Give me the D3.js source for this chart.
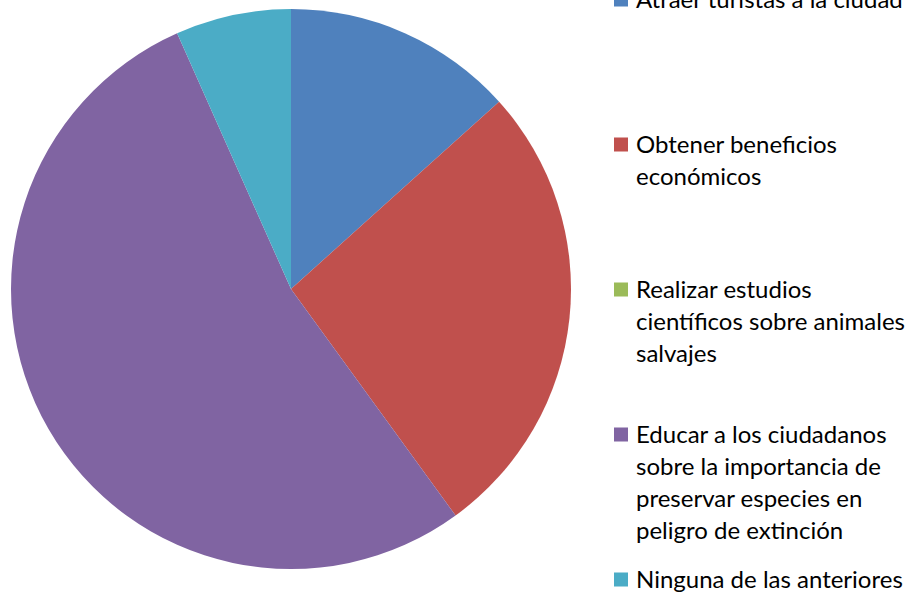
<!DOCTYPE html>
<html>
<head>
<meta charset="utf-8">
<script src="https://cdn.jsdelivr.net/npm/d3@7"></script>
<style>
  body { margin: 0; background: #fff; }
  svg { display: block; }
</style>
</head>
<body>
<script>
// categories (legend lines as they wrap in the original)
var categories = [
  ["Atraer turistas a la ciudad"],
  ["Obtener beneficios", "económicos"],
  ["Realizar estudios", "científicos sobre animales", "salvajes"],
  ["Educar a los ciudadanos", "sobre la importancia de", "preservar especies en", "peligro de extinción"],
  ["Ninguna de las anteriores"]
];
var values = [2, 4, 0, 8, 1];
var colors = ["#4F81BD", "#C0504D", "#9BBB59", "#8064A2", "#4BACC6"];

var width = 921, height = 594;

var svg = d3.select("body")
  .append("svg")
  .attr("width", width)
  .attr("height", height);

var data = values.map(function (v, i) { return { value: v, lines: categories[i], color: colors[i] }; });

var pie = d3.pie()
  .sort(null)
  .value(function (d) { return d.value; });

var arc = d3.arc()
  .innerRadius(0)
  .outerRadius(280);

svg.append("g")
  .attr("transform", "translate(291,289)")
  .selectAll("path")
  .data(pie(data))
  .enter().append("path")
  .attr("d", arc)
  .style("fill", function (d) { return d.data.color; });

// legend
var legendY = d3.scalePoint()
  .domain(d3.range(data.length))
  .range([0, 580]);

var lineH = 32;

var item = svg.append("g")
  .attr("class", "legend")
  .selectAll("g")
  .data(data)
  .enter().append("g")
  .attr("transform", function (d, i) { return "translate(614," + legendY(i) + ")"; });

item.append("rect")
  .attr("x", 0)
  .attr("y", -7.5)
  .attr("width", 14)
  .attr("height", 14)
  .style("fill", function (d) { return d.color; });

item.append("text")
  .style("font-family", "Lato, 'Open Sans', sans-serif")
  .style("font-size", "24px")
  .style("fill", "#000")
  .selectAll("tspan")
  .data(function (d) { return d.lines; })
  .enter().append("tspan")
  .attr("x", 22)
  .attr("y", function (d, j) { return j * lineH; })
  .attr("dy", "0.35em")
  .text(function (d) { return d; });
</script>
</body>
</html>
